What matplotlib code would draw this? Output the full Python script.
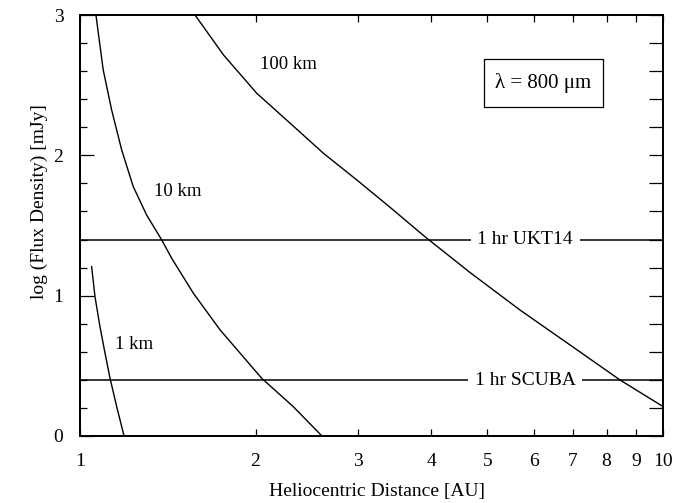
import matplotlib
matplotlib.use("Agg")
import matplotlib.pyplot as plt
from matplotlib.patches import Rectangle
from matplotlib.ticker import FixedLocator, NullLocator

plt.rcParams['font.family'] = ['Liberation Serif', 'DejaVu Serif']

# heliocentric distance [AU] vs log flux [mJy]
r_100km = [1.575, 1.762, 2.009, 2.293, 2.615, 2.983, 3.402, 3.906, 4.667, 5.684, 6.926, 8.44, 10.0]
f_100km = [3.0, 2.716, 2.443, 2.229, 2.015, 1.825, 1.630, 1.420, 1.165, 0.898, 0.649, 0.399, 0.21]

r_10km = [1.065, 1.096, 1.133, 1.179, 1.234, 1.301, 1.381, 1.437, 1.565, 1.739, 2.05, 2.322, 2.60]
f_10km = [3.0, 2.609, 2.324, 2.038, 1.777, 1.575, 1.397, 1.265, 1.017, 0.756, 0.411, 0.209, 0.0]

r_1km = [1.047, 1.061, 1.082, 1.104, 1.126, 1.156, 1.190]
f_1km = [1.207, 0.993, 0.779, 0.589, 0.411, 0.209, 0.0]

limits = {"1 hr UKT14": 1.398, "1 hr SCUBA": 0.398}
limit_label_x = 5.8

curve_labels = [("100 km", 2.275, 2.644), ("10 km", 1.473, 1.739), ("1 km", 1.238, 0.649)]

x_ticks = [1, 2, 3, 4, 5, 6, 7, 8, 9, 10]
y_ticks = [0, 1, 2, 3]
y_minor = [0.2, 0.4, 0.6, 0.8, 1.2, 1.4, 1.6, 1.8, 2.2, 2.4, 2.6, 2.8]

fig = plt.figure(figsize=(6.85, 5.03), dpi=100)
ax = fig.add_axes([80 / 685, 1 - 436 / 503, 583 / 685, 421 / 503])

ax.set_xscale("log")
ax.set_xlim(1, 10)
ax.set_ylim(0, 3)

for lab, y in limits.items():
    ax.axhline(y, color="black", lw=1.1, zorder=2)
    ax.text(limit_label_x, y, lab, ha="center", va="center", fontsize=14,
            bbox=dict(boxstyle="square,pad=0.35", facecolor="white", edgecolor="none"),
            zorder=3)

for r, f in [(r_100km, f_100km), (r_10km, f_10km), (r_1km, f_1km)]:
    ax.plot(r, f, color="black", lw=1.0, zorder=4)

for lab, x, y in curve_labels:
    ax.text(x, y, lab, ha="center", va="center", fontsize=13.5)

# wavelength box
ax.add_patch(Rectangle((0.693, 0.7815), 0.204, 0.114, transform=ax.transAxes,
                       facecolor="white", edgecolor="black", lw=0.9, zorder=5))
ax.text(0.795, 0.838, "\u03bb = 800 \u03bcm", transform=ax.transAxes, ha="center",
        va="center", fontsize=15, zorder=6)

ax.xaxis.set_major_locator(FixedLocator(x_ticks))
ax.xaxis.set_minor_locator(NullLocator())
ax.set_xticklabels([str(t) for t in x_ticks])
ax.set_yticks(y_ticks)
ax.set_yticks(y_minor, minor=True)

ax.tick_params(axis="x", which="both", direction="in", top=True, length=5, width=0.9,
               labelsize=14, pad=12)
ax.tick_params(axis="y", which="major", direction="in", length=10, width=0.9,
               labelsize=14, pad=12)
ax.tick_params(axis="y", which="minor", direction="in", length=5, width=0.9)

ax2 = ax.twinx()
ax2.set_ylim(0, 3)
ax2.set_yticks(y_ticks + y_minor)
ax2.tick_params(axis="y", direction="in", length=10, width=0.9, labelright=False)

for a in (ax, ax2):
    for s in a.spines.values():
        s.set_linewidth(1.3)

ax.set_xlabel("Heliocentric Distance [AU]", fontsize=14)
ax.set_ylabel("log (Flux Density) [mJy]", fontsize=14)
ax.xaxis.set_label_coords(0.509, -0.112)
ax.yaxis.set_label_coords(-0.055, 0.556)

fig.savefig("out.png", dpi=100)
